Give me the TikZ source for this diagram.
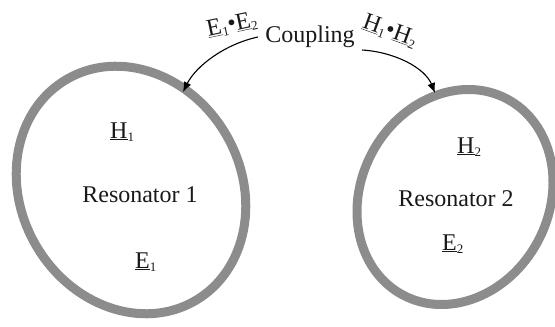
\documentclass[tikz,border=0pt]{standalone}
\usepackage{fontspec}
\setmainfont{Liberation Serif}
\usetikzlibrary{arrows.meta}
\newcommand{\sbs}[1]{\raisebox{-0.3ex}{\fontsize{13}{14}\selectfont #1}}
\begin{document}
\begin{tikzpicture}[x=1pt,y=1pt,
  ring/.style={draw=black!45, line width=9pt},
  lab/.style={font=\fontsize{24}{28}\selectfont, inner sep=0pt, text=black!90},
  fld/.style={font=\fontsize{24}{28}\selectfont, inner sep=0pt, text=black!90},
  conn/.style={line width=1.1pt, -{Latex[length=10pt,width=8pt]}}]
\useasboundingbox (0,0) rectangle (555,-327);
% resonators
\draw[ring, rotate around={30:(131,-190)}] (131,-190) ellipse [x radius=110, y radius=128];
\draw[ring, rotate around={-28:(455,-197)}] (455,-197) ellipse [x radius=94, y radius=111];
% labels
\node[lab] (r1) at (140,-195) {Resonator 1};
\node[lab] (r2) at (456,-199) {Resonator 2};
\node[fld, anchor=base west] (h1) at (110,-138) {\underline{H}\sbs{1}};
\node[fld, anchor=base west] (e1) at (135,-268) {\underline{E}\sbs{1}};
\node[fld, anchor=base west] (h2) at (457,-153) {\underline{H}\sbs{2}};
\node[fld, anchor=base west] (e2) at (442,-250) {\underline{E}\sbs{2}};
\node[lab] (cp) at (310,-37) {Coupling};
\node[fld, rotate=12] (ee) at (232,-25) {\underline{E}\sbs{1}•\underline{E}\sbs{2}};
\node[fld, rotate=-20] (hh) at (390,-31) {\underline{H}\sbs{1}•\underline{H}\sbs{2}};
% connector ends
\coordinate (s1) at (258,-37);
\coordinate (t1) at (183,-92);
\coordinate (s2) at (362,-50);
\coordinate (t2) at (435,-93);
\draw[conn] (s1) .. controls (225,-44) and (196,-66) .. (t1);
\draw[conn] (s2) .. controls (395,-52) and (425,-68) .. (t2);
\end{tikzpicture}
\end{document}
